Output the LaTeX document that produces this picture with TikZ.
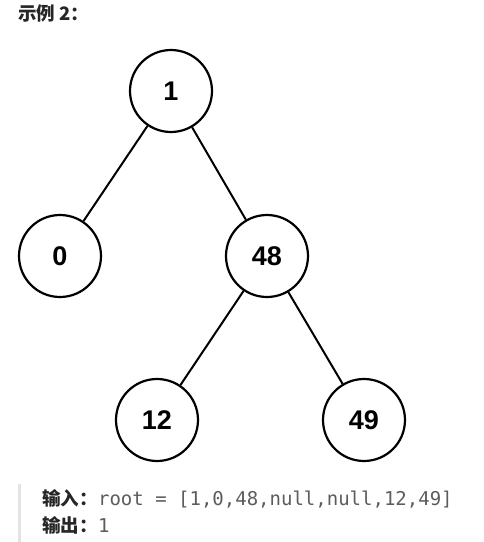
\documentclass[tikz,border=0pt]{standalone}
\usepackage{fontspec}
\setmainfont{Liberation Sans}
\setmonofont{DejaVu Sans Mono}
\newfontfamily\cjk{Noto Sans CJK SC}
\usetikzlibrary{positioning}
\definecolor{TextDark}{HTML}{262626}
\definecolor{CodeGray}{HTML}{5C5C5C}
\definecolor{QuoteBar}{HTML}{E3E3E3}
\tikzset{
    % Tree nodes
    treenode/.style={
        circle,
        draw=black,
        line width=2.2pt,
        fill=white,
        minimum size=82pt,
        inner sep=0pt,
        font=\fontsize{27}{30}\selectfont\bfseries
    },
    edge/.style={
        draw=black,
        line width=2pt
    },
    caption/.style={
        anchor=west,
        inner sep=0pt,
        text=TextDark,
        font=\cjk\fontsize{18.5}{20}\selectfont\bfseries
    },
    code/.style={
        anchor=base west,
        inner sep=0pt,
        text=CodeGray,
        font=\ttfamily\fontsize{19}{21}\selectfont
    }
}
\begin{document}
\begin{tikzpicture}[x=1pt, y=-1pt]
        \useasboundingbox (0,0) rectangle (483,542);

        % Title
        \node[caption] (title) at (18,13) {示例 2：};

        % Tree
        \node[treenode] (n1) at (171,91) {1};
        \node[treenode] (n0) at (60,256) {0};
        \node[treenode] (n48) at (267,256) {48};
        \node[treenode] (n12) at (157,420) {12};
        \node[treenode] (n49) at (364,420) {49};

        \draw[edge] (n1) -- (n0);
        \draw[edge] (n1) -- (n48);
        \draw[edge] (n48) -- (n12);
        \draw[edge] (n48) -- (n49);

        % Example block
        \fill[QuoteBar] (18,484) rectangle (21,542);
        \node[caption] (inlabel) at (42,498) {输入：};
        \node[code] (incode) at (inlabel.base east) {root = [1,0,48,null,null,12,49]};
        \node[caption] (outlabel) at (42,525) {输出：};
        \node[code] (outcode) at (outlabel.base east) {1};
    \end{tikzpicture}
\end{document}
